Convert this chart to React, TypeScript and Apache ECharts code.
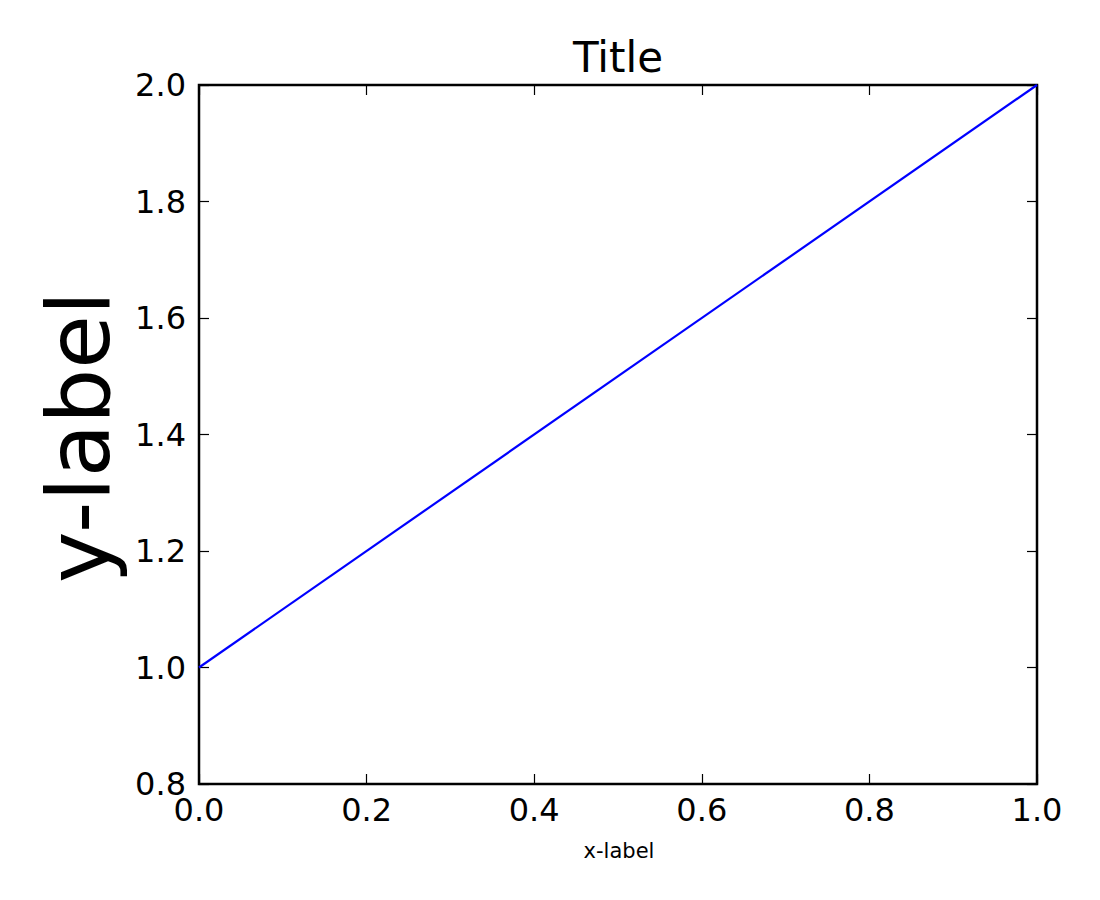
import React, { useEffect, useRef } from "react";
import * as echarts from "echarts";

const xValues = [0, 1];
const yValues = [1, 2];
const titleText = "Title";
const xLabel = "x-label";
const yLabel = "y-label";

const FONT = "DejaVu Sans";

export default function App() {
  const ref = useRef<HTMLDivElement>(null);
  useEffect(() => {
    if (!ref.current) return;
    const chart = echarts.init(ref.current, undefined, { renderer: "svg" });
    const axisLine = { show: false, onZero: false };
    const tick = { show: true, inside: true, length: 10, lineStyle: { color: "#000", width: 1.2 } };
    const fmt = (v: number) => v.toFixed(1);
    chart.setOption({
      animation: false,
      backgroundColor: "#fff",
      grid: {
        left: 199, top: 85, width: 838, height: 699, containLabel: false,
        show: true, borderColor: "#000", borderWidth: 2.5, backgroundColor: "transparent",
      },
      xAxis: [
        {
          type: "value", min: 0, max: 1, interval: 0.2, position: "bottom",
          axisLine, axisTick: tick, splitLine: { show: false },
          axisLabel: { formatter: fmt, color: "#000", fontFamily: FONT, fontSize: 32, margin: 10 },
        },
        {
          type: "value", min: 0, max: 1, interval: 0.2, position: "top",
          axisLine, axisTick: tick, splitLine: { show: false }, axisLabel: { show: false },
        },
      ],
      yAxis: [
        {
          type: "value", min: 0.8, max: 2.0, interval: 0.2, position: "left",
          axisLine, axisTick: tick, splitLine: { show: false },
          axisLabel: { formatter: fmt, color: "#000", fontFamily: FONT, fontSize: 32, margin: 13 },
        },
        {
          type: "value", min: 0.8, max: 2.0, interval: 0.2, position: "right",
          axisLine, axisTick: tick, splitLine: { show: false }, axisLabel: { show: false },
        },
      ],
      series: [
        {
          type: "line",
          data: xValues.map((x, i) => [x, yValues[i]]),
          showSymbol: false,
          symbol: "none",
          lineStyle: { color: "#0000ff", width: 2.2 },
        },
      ],
      graphic: [
        {
          type: "text", x: 618, y: 57,
          style: { text: titleText, font: `42px "${FONT}"`, fill: "#000", textAlign: "center", textVerticalAlign: "middle" },
        },
        {
          type: "text", x: 619, y: 851,
          style: { text: xLabel, font: `21px "${FONT}"`, fill: "#000", textAlign: "center", textVerticalAlign: "middle" },
        },
        {
          type: "text", x: 79, y: 437, rotation: Math.PI / 2,
          style: { text: yLabel, font: `87px "${FONT}"`, fill: "#000", textAlign: "center", textVerticalAlign: "middle" },
        },
      ],
    });
    return () => chart.dispose();
  }, []);
  return (
    <div
      ref={ref}
      style={{ position: "absolute", left: 0, top: 0, width: 1100, height: 900 }}
    />
  );
}
